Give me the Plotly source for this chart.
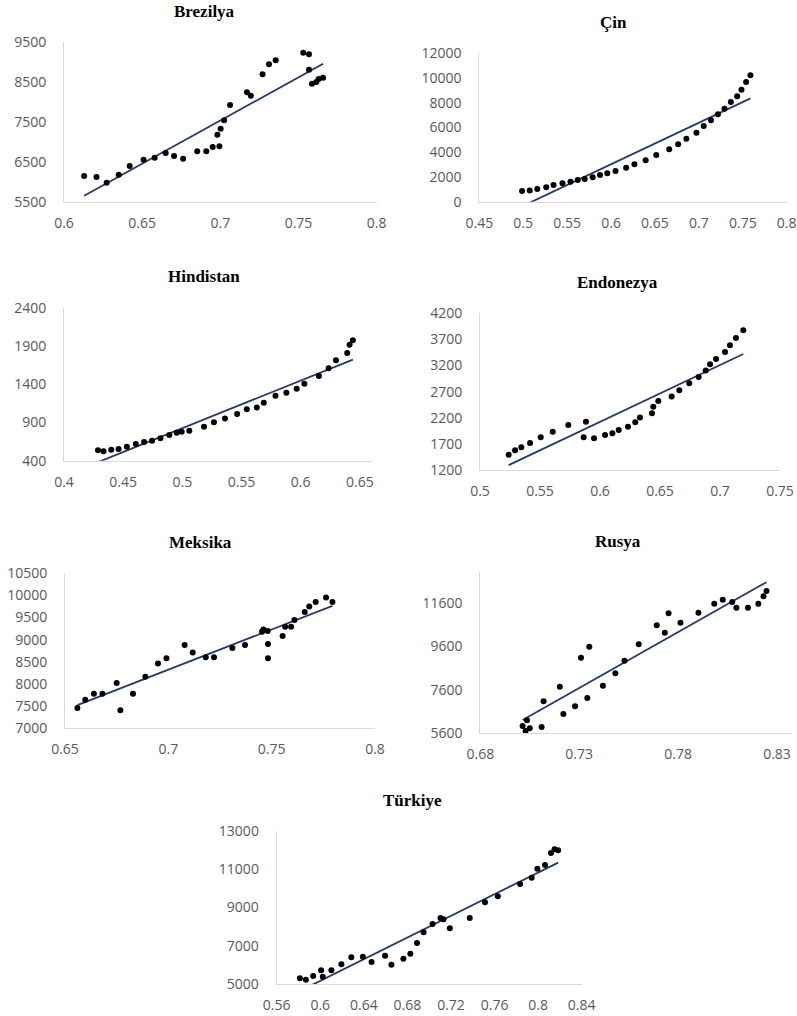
import numpy as np
import plotly.graph_objects as go

W, H = 797, 1016

# ---------------- data ----------------
brezilya_x = [0.6129, 0.6208, 0.6273, 0.635, 0.642, 0.6509, 0.658, 0.665, 0.6704, 0.6762,
              0.6852, 0.691, 0.6951, 0.6994, 0.6981, 0.7002, 0.7024, 0.7062, 0.717, 0.7195,
              0.727, 0.7311, 0.7354, 0.753, 0.7567, 0.7567, 0.7586, 0.7614, 0.7629, 0.7657]
brezilya_y = [6150, 6125, 5983, 6183, 6400, 6558, 6608, 6725, 6650, 6583,
              6767, 6767, 6875, 6892, 7183, 7333, 7542, 7925, 8242, 8158,
              8692, 8942, 9042, 9233, 9192, 8808, 8458, 8500, 8575, 8608]

cin_x = [0.4987, 0.5074, 0.516, 0.5262, 0.5345, 0.5447, 0.5538, 0.5621, 0.57, 0.5791,
         0.5874, 0.5957, 0.6051, 0.6172, 0.6266, 0.6394, 0.6515, 0.6662, 0.6764, 0.6858,
         0.6972, 0.7055, 0.7138, 0.7217, 0.7292, 0.7364, 0.7436, 0.7485, 0.7538, 0.7587]
cin_y = [860, 900, 1024, 1159, 1348, 1482, 1617, 1752, 1833, 1968,
         2156, 2291, 2480, 2749, 3019, 3342, 3774, 4232, 4636, 5094,
         5580, 6119, 6577, 7062, 7520, 8059, 8518, 9057, 9677, 10216]

hindistan_x = [0.4287, 0.4334, 0.4399, 0.4461, 0.4531, 0.4607, 0.4677, 0.4744, 0.4815, 0.489,
               0.4952, 0.4994, 0.5059, 0.5183, 0.5267, 0.536, 0.5463, 0.5545, 0.5629, 0.5688,
               0.5787, 0.5879, 0.5966, 0.6031, 0.6154, 0.6236, 0.6298, 0.6393, 0.6413, 0.6441]
hindistan_y = [535, 522, 544, 553, 583, 618, 644, 661, 692, 736,
               766, 779, 792, 844, 901, 953, 1010, 1071, 1097, 1158,
               1250, 1289, 1341, 1407, 1507, 1607, 1712, 1807, 1916, 1973]

endonezya_x = [0.5239, 0.5292, 0.5344, 0.5417, 0.5506, 0.5606, 0.5736, 0.5883, 0.5864, 0.595,
               0.6042, 0.6103, 0.6156, 0.6233, 0.6294, 0.6333, 0.6433, 0.6444, 0.6486, 0.6597,
               0.6661, 0.6744, 0.6822, 0.6881, 0.6917, 0.6967, 0.7042, 0.7083, 0.7133, 0.7194]
endonezya_y = [1494, 1577, 1634, 1717, 1826, 1934, 2062, 2126, 1826, 1807,
               1871, 1902, 1966, 2030, 2113, 2203, 2286, 2413, 2522, 2605,
               2726, 2860, 2982, 3103, 3224, 3327, 3461, 3588, 3729, 3876]

meksika_x = [0.656, 0.6598, 0.664, 0.6681, 0.675, 0.6768, 0.6829, 0.6889, 0.695, 0.6991,
             0.7079, 0.7118, 0.7181, 0.7221, 0.731, 0.7371, 0.7453, 0.746, 0.7481, 0.7482,
             0.7482, 0.7553, 0.7565, 0.7594, 0.761, 0.766, 0.7682, 0.7713, 0.7763, 0.7794]
meksika_y = [7459, 7647, 7782, 7782, 8023, 7406, 7782, 8165, 8466, 8579,
             8880, 8714, 8602, 8602, 8812, 8880, 9180, 9233, 9195, 8902,
             8579, 9083, 9293, 9293, 9444, 9624, 9752, 9850, 9955, 9850]

rusya_x = [0.7014, 0.7029, 0.7036, 0.705, 0.711, 0.712, 0.7202, 0.722, 0.7279, 0.7309,
           0.7341, 0.7351, 0.742, 0.7483, 0.7529, 0.7601, 0.7692, 0.7733, 0.7752, 0.7812,
           0.7903, 0.7983, 0.8026, 0.8074, 0.8095, 0.8153, 0.8206, 0.8232, 0.8247]
rusya_y = [5937, 5707, 6197, 5830, 5891, 7069, 7742, 6488, 6840, 9074,
           7222, 9579, 7788, 8354, 8936, 9686, 10558, 10221, 11109, 10680,
           11139, 11553, 11736, 11629, 11369, 11369, 11553, 11889, 12134]

turkiye_x = [0.5813, 0.5868, 0.5935, 0.6008, 0.6023, 0.6102, 0.6194, 0.6285, 0.6391, 0.6471,
             0.6595, 0.6653, 0.6763, 0.6827, 0.6888, 0.6949, 0.7031, 0.7104, 0.7131, 0.7189,
             0.7372, 0.7512, 0.763, 0.7834, 0.7941, 0.7993, 0.8063, 0.8118, 0.8151, 0.8184]
turkiye_y = [5296, 5226, 5417, 5713, 5383, 5713, 6026, 6391, 6426, 6148,
             6478, 6009, 6322, 6583, 7139, 7696, 8130, 8443, 8374, 7904,
             8443, 9261, 9574, 10217, 10548, 11017, 11209, 11835, 12026, 11974]

titles = ["Brezilya", "Çin", "Hindistan", "Endonezya", "Meksika", "Rusya", "Türkiye"]

brezilya_xticks = [0.6, 0.65, 0.7, 0.75, 0.8]
brezilya_yticks = [5500, 6500, 7500, 8500, 9500]
cin_xticks = [0.45, 0.5, 0.55, 0.6, 0.65, 0.7, 0.75, 0.8]
cin_yticks = [0, 2000, 4000, 6000, 8000, 10000, 12000]
hindistan_xticks = [0.4, 0.45, 0.5, 0.55, 0.6, 0.65]
hindistan_yticks = [400, 900, 1400, 1900, 2400]
endonezya_xticks = [0.5, 0.55, 0.6, 0.65, 0.7, 0.75]
endonezya_yticks = [1200, 1700, 2200, 2700, 3200, 3700, 4200]
meksika_xticks = [0.65, 0.7, 0.75, 0.8]
meksika_yticks = [7000, 7500, 8000, 8500, 9000, 9500, 10000, 10500]
rusya_xticks = [0.68, 0.73, 0.78, 0.83]
rusya_yticks = [5600, 7600, 9600, 11600]
turkiye_xticks = [0.56, 0.6, 0.64, 0.68, 0.72, 0.76, 0.8, 0.84]
turkiye_yticks = [5000, 7000, 9000, 11000, 13000]

# ---------------- layout per panel (pixels) ----------------
panels = [
    dict(x=brezilya_x, y=brezilya_y, xt=brezilya_xticks, yt=brezilya_yticks,
         px=(64, 376.7), py=(42, 202), xr=(0.6, 0.8), yr=(5500, 9500), title=(204, 12)),
    dict(x=cin_x, y=cin_y, xt=cin_xticks, yt=cin_yticks,
         px=(479.3, 786.7), py=(53.3, 201.7), xr=(0.45, 0.8), yr=(0, 12000), title=(613, 23)),
    dict(x=hindistan_x, y=hindistan_y, xt=hindistan_xticks, yt=hindistan_yticks,
         px=(64, 371.7), py=(307.7, 460.7), xr=(0.4, 0.66), yr=(400, 2400), title=(204, 277)),
    dict(x=endonezya_x, y=endonezya_y, xt=endonezya_xticks, yt=endonezya_yticks,
         px=(480, 780), py=(313.3, 470), xr=(0.5, 0.75), yr=(1200, 4200), title=(617, 283)),
    dict(x=meksika_x, y=meksika_y, xt=meksika_xticks, yt=meksika_yticks,
         px=(65, 375), py=(573.3, 728.3), xr=(0.65, 0.8), yr=(7000, 10500), title=(200, 542)),
    dict(x=rusya_x, y=rusya_y, xt=rusya_xticks, yt=rusya_yticks,
         px=(480.3, 792), py=(571.7, 733.3), xr=(0.68, 0.8376), yr=(5600, 13020), title=(618, 541)),
    dict(x=turkiye_x, y=turkiye_y, xt=turkiye_xticks, yt=turkiye_yticks,
         px=(276.7, 581.7), py=(830.7, 984), xr=(0.56, 0.84), yr=(5000, 13000), title=(412, 800)),
]

fig = go.Figure()
tick_font = dict(family="Open Sans", size=14, color="#595959")
axis_color = "#D9D9D9"
annotations = []

for i, p in enumerate(panels):
    n = "" if i == 0 else str(i + 1)
    xa, ya = "x" + n, "y" + n
    xs = np.array(p["x"]); ys = np.array(p["y"])
    slope, icpt = np.polyfit(xs, ys, 1)
    lx = np.array([xs.min(), xs.max()])
    fig.add_trace(go.Scatter(x=lx, y=slope * lx + icpt, mode="lines",
                             line=dict(color="#1F3A73", width=1.8),
                             xaxis=xa, yaxis=ya, showlegend=False, hoverinfo="skip"))
    fig.add_trace(go.Scatter(x=p["x"], y=p["y"], mode="markers",
                             marker=dict(color="black", size=6),
                             xaxis=xa, yaxis=ya, showlegend=False, cliponaxis=False))
    xdom = [p["px"][0] / W, p["px"][1] / W]
    ydom = [1 - p["py"][1] / H, 1 - p["py"][0] / H]
    fig.update_layout(**{
        "xaxis" + n: dict(domain=xdom, range=list(p["xr"]), anchor=ya,
                          tickvals=p["xt"], ticktext=[f"{v:g}" for v in p["xt"]],
                          showline=True, linecolor=axis_color, linewidth=1,
                          showgrid=False, zeroline=False, ticks="",
                          tickfont=tick_font, ticklabelstandoff=8, automargin=False),
        "yaxis" + n: dict(domain=ydom, range=list(p["yr"]), anchor=xa,
                          tickvals=p["yt"], ticktext=[str(v) for v in p["yt"]],
                          showline=True, linecolor=axis_color, linewidth=1,
                          showgrid=False, zeroline=False, ticks="",
                          tickfont=tick_font, ticklabelstandoff=14, automargin=False),
    })
    annotations.append(dict(text="<b>" + titles[i] + "</b>", x=p["title"][0] / W,
                            y=1 - p["title"][1] / H, xref="paper", yref="paper",
                            xanchor="center", yanchor="middle", showarrow=False,
                            font=dict(family="Liberation Serif", size=17, color="black")))

fig.update_layout(width=W, height=H, margin=dict(l=0, r=0, t=0, b=0),
                  template="none", paper_bgcolor="white", plot_bgcolor="white",
                  annotations=annotations, showlegend=False)

fig.write_html("out.html", config={"displayModeBar": False},
               post_script="document.body.style.margin='0';document.body.style.padding='0';"
                           "document.body.style.overflow='hidden';")
